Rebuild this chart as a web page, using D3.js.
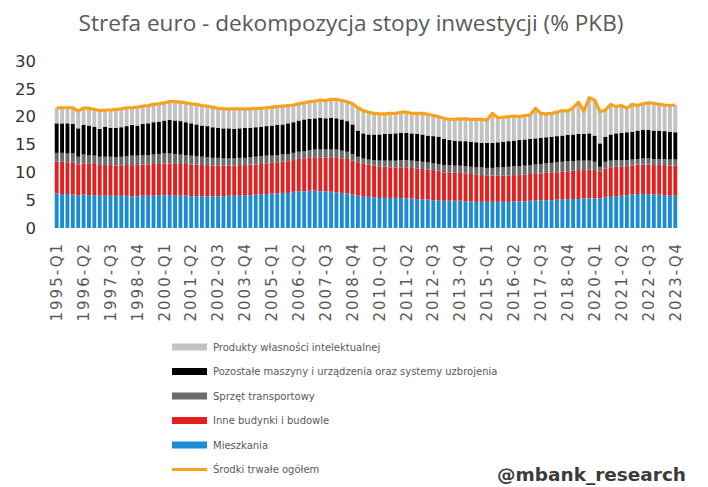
<!DOCTYPE html>
<html>
<head>
<meta charset="utf-8">
<script src="https://cdn.jsdelivr.net/npm/d3@7"></script>
<style>
  html, body { margin: 0; padding: 0; background: #fff; }
  svg { display: block; }
</style>
</head>
<body>
<svg id="chart" width="708" height="487"></svg>
<script>
// ---------- DATA ----------
const years = d3.range(1995, 2024);
const quarters = years.flatMap(y => [1, 2, 3, 4].map(q => `${y}-Q${q}`));

const mieszkania = [
  6.2,6.1,6.1,6.0, 5.8,6.0,5.9,5.9, 5.8,5.8,5.8,5.8, 5.8,5.8,5.7,5.7, 5.8,5.8,5.8,5.9,
  5.9,5.9,5.8,5.8, 5.8,5.7,5.7,5.7, 5.7,5.7,5.7,5.7, 5.8,5.8,5.8,5.9, 5.9,6.0,6.0,6.1,
  6.2,6.2,6.3,6.3, 6.5,6.6,6.6,6.7, 6.7,6.6,6.6,6.5, 6.4,6.3,6.2,6.0, 5.8,5.6,5.6,5.5,
  5.4,5.4,5.4,5.4, 5.4,5.3,5.3,5.2, 5.1,5.1,5.0,5.0, 4.9,4.9,4.9,4.9, 4.8,4.8,4.7,4.7,
  4.7,4.7,4.7,4.7, 4.7,4.8,4.8,4.8, 4.9,4.9,5.0,5.0, 5.0,5.1,5.1,5.2, 5.2,5.2,5.3,5.3,
  5.3,5.3,5.6,5.6, 5.7,5.8,5.9,6.0, 6.1,6.1,6.1,6.0, 6.0,5.9,5.8,5.8
];
const inneBudynki = [
  5.7,5.8,5.7,5.8, 5.6,5.6,5.7,5.6, 5.5,5.5,5.5,5.4, 5.4,5.5,5.6,5.6, 5.6,5.6,5.7,5.6,
  5.7,5.7,5.7,5.7, 5.7,5.7,5.7,5.6, 5.6,5.5,5.5,5.5, 5.4,5.4,5.5,5.4, 5.5,5.4,5.5,5.5,
  5.5,5.6,5.6,5.7, 5.7,5.8,5.9,5.9, 6.0,6.1,6.1,6.1, 6.2,6.2,6.2,6.1, 6.0,6.0,5.8,5.7,
  5.6,5.6,5.5,5.5, 5.5,5.6,5.5,5.5, 5.5,5.4,5.4,5.3, 5.1,5.1,5.0,5.0, 5.0,4.9,4.9,4.8,
  4.7,4.7,4.7,4.7, 4.7,4.7,4.7,4.8, 4.8,4.8,4.8,4.9, 5.0,4.9,5.0,5.0, 5.1,5.2,5.1,5.2,
  5.1,4.8,5.1,5.2, 5.3,5.2,5.2,5.2, 5.3,5.3,5.3,5.3, 5.3,5.4,5.4,5.4
];
const sprzetTransportowy = [
  1.6,1.6,1.6,1.6, 1.4,1.6,1.5,1.5, 1.5,1.5,1.5,1.5, 1.6,1.6,1.7,1.7, 1.7,1.7,1.7,1.8,
  1.8,1.8,1.8,1.7, 1.6,1.6,1.5,1.5, 1.4,1.4,1.4,1.3, 1.3,1.3,1.3,1.3, 1.3,1.4,1.4,1.4,
  1.3,1.3,1.3,1.3, 1.3,1.3,1.3,1.4, 1.4,1.4,1.4,1.5, 1.5,1.4,1.3,1.2, 1.0,0.9,0.9,1.0,
  1.1,1.1,1.2,1.2, 1.3,1.3,1.3,1.3, 1.3,1.3,1.2,1.2, 1.3,1.3,1.3,1.3, 1.3,1.3,1.3,1.4,
  1.4,1.4,1.5,1.5, 1.6,1.6,1.6,1.6, 1.6,1.7,1.7,1.7, 1.7,1.8,1.8,1.8, 1.7,1.7,1.7,1.6,
  1.5,0.9,1.2,1.3, 1.2,1.2,1.1,1.1, 1.0,1.1,1.1,1.1, 1.1,1.1,1.1,1.1
];
const maszynyUzbrojenie = [
  5.3,5.3,5.4,5.3, 5.1,5.3,5.3,5.2, 5.0,5.4,5.2,5.3, 5.3,5.4,5.5,5.4, 5.6,5.7,5.8,5.8,
  5.9,6.0,6.0,6.0, 5.9,5.8,5.7,5.6, 5.6,5.5,5.4,5.4, 5.4,5.3,5.3,5.4, 5.3,5.3,5.3,5.3,
  5.4,5.4,5.4,5.5, 5.5,5.6,5.7,5.6, 5.6,5.7,5.6,5.7, 5.6,5.6,5.5,5.3, 4.7,4.5,4.5,4.6,
  4.7,4.8,4.8,4.9, 4.9,4.9,4.9,4.9, 4.9,4.8,4.9,4.9, 4.7,4.5,4.5,4.4, 4.5,4.5,4.5,4.4,
  4.5,4.5,4.5,4.6, 4.6,4.6,4.7,4.7, 4.7,4.7,4.7,4.7, 4.7,4.7,4.7,4.7, 4.8,4.8,4.8,4.9,
  4.7,4.2,4.5,4.7, 4.8,4.9,5.0,5.0, 5.1,5.1,5.1,5.1, 5.1,5.0,5.0,4.9
];
const produktyIP = [
  2.8,2.8,2.8,2.9, 3.1,3.1,3.1,3.1, 3.3,3.0,3.2,3.3, 3.3,3.3,3.1,3.3, 3.2,3.2,3.2,3.2,
  3.2,3.3,3.4,3.4, 3.5,3.5,3.6,3.6, 3.6,3.6,3.5,3.5, 3.5,3.6,3.5,3.4, 3.4,3.4,3.3,3.3,
  3.3,3.3,3.3,3.2, 3.1,3.0,3.0,3.1, 3.1,3.2,3.2,3.3, 3.4,3.4,3.5,3.7, 4.1,4.1,4.0,3.8,
  3.7,3.6,3.7,3.6, 3.7,3.7,3.6,3.7, 3.8,3.8,3.7,3.6, 3.7,3.7,3.8,4.0, 4.0,4.0,4.1,4.2,
  4.1,5.3,4.4,4.4, 4.4,4.4,4.2,4.3, 4.3,5.4,4.4,4.2, 4.2,4.3,4.5,4.3, 4.8,5.7,4.1,6.4,
  6.4,5.7,4.8,5.4, 4.8,4.9,4.3,4.9, 4.5,4.7,4.9,4.9, 4.7,4.7,4.7,4.9
];
const srodkiTrwaleOgolem = [
  21.6,21.6,21.6,21.6, 21.0,21.6,21.5,21.3, 21.1,21.2,21.2,21.3, 21.4,21.6,21.6,21.7, 21.9,22.0,22.2,22.3,
  22.5,22.7,22.7,22.6, 22.5,22.3,22.2,22.0, 21.9,21.7,21.5,21.4, 21.4,21.4,21.4,21.4, 21.4,21.5,21.5,21.6,
  21.7,21.8,21.9,22.0, 22.1,22.3,22.5,22.7, 22.8,23.0,22.9,23.1, 23.1,22.9,22.7,22.3, 21.6,21.1,20.8,20.6,
  20.5,20.5,20.6,20.6, 20.8,20.8,20.6,20.6, 20.6,20.4,20.2,20.0, 19.7,19.5,19.5,19.6, 19.6,19.5,19.5,19.5,
  19.4,20.6,19.8,19.9, 20.0,20.1,20.0,20.2, 20.3,21.5,20.6,20.5, 20.6,20.8,21.1,21.0, 21.6,22.6,21.0,23.4,
  23.0,20.9,21.2,22.2, 21.8,22.0,21.5,22.2, 22.0,22.3,22.5,22.4, 22.2,22.1,22.0,22.1
];
const yTicks = [0, 5, 10, 15, 20, 25, 30];

const seriesNames = {
  mieszkania: "Mieszkania",
  inne: "Inne budynki i budowle",
  transport: "Sprzęt transportowy",
  maszyny: "Pozostałe maszyny i urządzenia oraz systemy uzbrojenia",
  ip: "Produkty własności intelektualnej",
  total: "Środki trwałe ogółem"
};
const colors = {
  mieszkania: "#1b8cd3",
  inne: "#e41f1f",
  transport: "#6b6b6b",
  maszyny: "#000000",
  ip: "#c3c3c3",
  total: "#f7a21b"
};

// ---------- BUILD ----------
const table = quarters.map((q, i) => ({
  q,
  mieszkania: mieszkania[i],
  inne: inneBudynki[i],
  transport: sprzetTransportowy[i],
  maszyny: maszynyUzbrojenie[i],
  ip: produktyIP[i],
  total: srodkiTrwaleOgolem[i]
}));
const keys = ["mieszkania", "inne", "transport", "maszyny", "ip"];
const stacked = d3.stack().keys(keys)(table);

const svg = d3.select("#chart");
const x = d3.scaleBand().domain(quarters).range([54, 678]).paddingInner(0.28).paddingOuter(0.14);
const y = d3.scaleLinear().domain([0, 30]).range([228, 61]);

// bars
svg.append("g").selectAll("g").data(stacked).join("g")
  .attr("fill", d => colors[d.key])
  .selectAll("rect").data(d => d).join("rect")
  .attr("x", d => x(d.data.q))
  .attr("width", x.bandwidth())
  .attr("y", d => y(d[1]))
  .attr("height", d => y(d[0]) - y(d[1]));

// total line
const line = d3.line()
  .x(d => x(d.q) + x.bandwidth() / 2)
  .y(d => y(d.total));
svg.append("path").datum(table)
  .attr("d", line)
  .attr("fill", "none")
  .attr("stroke", colors.total)
  .attr("stroke-width", 3.2)
  .attr("stroke-linejoin", "round");

// y axis
const yAxis = d3.axisLeft(y).tickValues(yTicks).tickSize(0).tickPadding(0);
const gy = svg.append("g").attr("transform", "translate(36,0)").call(yAxis);
gy.select(".domain").remove();
gy.selectAll("text")
  .attr("font-family", "DejaVu Sans, Verdana, sans-serif")
  .attr("font-size", 16.5)
  .attr("fill", "#333333");

// x axis
const labelQuarters = quarters.filter((d, i) => i % 5 === 0);
const xAxis = d3.axisBottom(x).tickValues(labelQuarters).tickSize(0).tickPadding(0);
const gx = svg.append("g").attr("transform", "translate(0,242)").call(xAxis);
gx.select(".domain").remove();
gx.selectAll("text")
  .attr("font-family", "DejaVu Sans, Verdana, sans-serif")
  .attr("font-size", 15)
  .attr("letter-spacing", "2px")
  .attr("fill", "#595959")
  .attr("text-anchor", "end")
  .attr("dy", "0.35em")
  .attr("transform", "rotate(-90)")
  .attr("x", 0)
  .attr("y", 0);

// title
const title = svg.append("text")
  .attr("x", 351).attr("y", 31)
  .attr("text-anchor", "middle")
  .attr("font-family", "Open Sans, Liberation Sans, sans-serif")
  .attr("font-size", 20)
  .attr("fill", "#595959")
  .text("Strefa euro - dekompozycja stopy inwestycji (% PKB)");
const tw = title.node().getComputedTextLength();
title.attr("font-size", 20 * 545 / tw);

// legend
const legendOrder = ["ip", "maszyny", "transport", "inne", "mieszkania", "total"];
const lg = svg.append("g");
legendOrder.forEach((k, i) => {
  const cy = 347 + i * 24.5;
  if (k === "total") {
    lg.append("rect").attr("x", 172).attr("y", cy - 1.5).attr("width", 35).attr("height", 3).attr("fill", colors[k]);
  } else {
    lg.append("rect").attr("x", 172).attr("y", cy - 3.5).attr("width", 35).attr("height", 7).attr("fill", colors[k]);
  }
  lg.append("text")
    .attr("x", 213).attr("y", cy)
    .attr("dy", "0.35em")
    .attr("font-family", "DejaVu Sans, Verdana, sans-serif")
    .attr("font-size", 10)
    .attr("fill", "#595959")
    .text(seriesNames[k]);
});

// watermark
const wm = svg.append("text")
  .attr("x", 686).attr("y", 481)
  .attr("text-anchor", "end")
  .attr("font-family", "DejaVu Sans, Verdana, sans-serif")
  .attr("font-weight", "bold")
  .attr("font-size", 18)
  .attr("fill", "#3a3a3a")
  .text("@mbank_research");
const ww = wm.node().getComputedTextLength();
wm.attr("font-size", 18 * 189 / ww);
</script>
</body>
</html>
